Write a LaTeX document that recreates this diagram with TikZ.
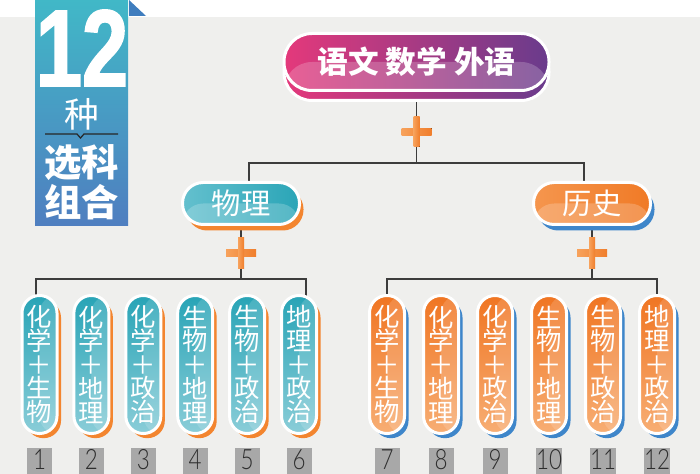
\documentclass[tikz,border=0pt]{standalone}
\usepackage{fontspec}
\usepackage{graphicx}
\setmainfont{Liberation Sans}
\newfontfamily\cjk{Noto Sans CJK SC}
\newfontfamily\numfont{Lato Light}
\newfontfamily\heavyfont[FakeBold=1.5,FakeStretch=0.76]{Liberation Sans Bold}
\usetikzlibrary{shadows,calc}

\definecolor{bggray}{HTML}{EFEFED}
\definecolor{badgetop}{HTML}{41B8C7}
\definecolor{badgebot}{HTML}{4F7EC0}
\definecolor{foldblue}{HTML}{3F7DBE}
\definecolor{pinkl}{HTML}{E4397B}
\definecolor{purpr}{HTML}{693B8C}
\definecolor{tealtop}{HTML}{28A4B6}
\definecolor{tealbot}{HTML}{8ACDD8}
\definecolor{tealdk}{HTML}{2AA5B7}
\definecolor{teallt}{HTML}{64C0CE}
\definecolor{ortop}{HTML}{F07522}
\definecolor{orbot}{HTML}{F7AE74}
\definecolor{ordk}{HTML}{F07A26}
\definecolor{orlt}{HTML}{F5964E}
\definecolor{shorange}{HTML}{F3852F}
\definecolor{shblue}{HTML}{3E86CA}
\definecolor{plusl}{HTML}{F7A25C}
\definecolor{plusr}{HTML}{F07E2C}
\definecolor{linegray}{HTML}{3C3C3C}
\definecolor{numgray}{HTML}{A8A8A8}
\definecolor{numtext}{HTML}{2E2E2E}

\pgfdeclarelayer{back}
\pgfdeclarelayer{lines}
\pgfsetlayers{back,lines,main}

\tikzset{
  conn/.style={draw=linegray,line width=1.1pt},
  lowgloss/.style={path picture={\fill[white,opacity=.2] (path picture bounding box.west) rectangle (path picture bounding box.south east);}},
  rightgloss/.style={path picture={\fill[white,opacity=.15] (path picture bounding box.north) rectangle (path picture bounding box.south east);}},
  flatbox/.style={rectangle,rounded corners=15.5pt,draw=white,line width=2.25pt,minimum width=87.75pt,minimum height=31.5pt,inner sep=0pt,text=white,font=\cjk\fontsize{22}{22}\selectfont,lowgloss},
  tealbox/.style={flatbox,left color=teallt,right color=tealdk,drop shadow={shadow xshift=3pt,shadow yshift=-4.5pt,opacity=1,fill=shorange}},
  orangebox/.style={flatbox,left color=orlt,right color=ordk,drop shadow={shadow xshift=3pt,shadow yshift=-4.5pt,opacity=1,fill=shblue}},
  topbox/.style={rectangle,rounded corners=21pt,draw=white,line width=2.25pt,minimum width=198.75pt,minimum height=42.75pt,inner sep=0pt,text=white,font=\cjk\bfseries\fontsize{23}{23}\selectfont,left color=pinkl,right color=purpr,lowgloss,
    drop shadow={shadow xshift=0pt,shadow yshift=-7.5pt,opacity=1,left color=pinkl,right color=purpr,draw=white,line width=2.25pt}},
  pillbox/.style={rectangle,rounded corners=13pt,draw=white,line width=2.25pt,minimum width=26.25pt,minimum height=103.5pt,inner sep=0pt,text=white,align=center,font=\cjk\fontsize{19}{17.8}\selectfont,rightgloss},
  tealpill/.style={pillbox,top color=tealtop,bottom color=tealbot,drop shadow={shadow xshift=3pt,shadow yshift=-3.5pt,opacity=1,fill=shorange}},
  orangepill/.style={pillbox,top color=ortop,bottom color=orbot,drop shadow={shadow xshift=3pt,shadow yshift=-3.5pt,opacity=1,fill=shblue}},
  numbox/.style={fill=numgray,minimum width=18.75pt,minimum height=21pt,inner sep=0pt,text height=16pt,text depth=4.5pt,text=numtext,font=\numfont\fontsize{21}{21}\selectfont},
  badgetext/.style={text=white,inner sep=0pt},
  plusmark/.pic={
    \fill[left color=plusl,right color=plusr] (-15,-3.5) rectangle (15,3.5);
    \fill[left color=plusl,right color=plusr] (-3,-15) rectangle (3,15);
  }
}

\begin{document}
\begin{tikzpicture}[x=0.75pt,y=-0.75pt]
  \useasboundingbox (0,0) rectangle (700,474);
  \begin{pgfonlayer}{back}
    \fill[white] (0,0) rectangle (700,17);
    \fill[bggray] (0,17) rectangle (700,474);
  \end{pgfonlayer}

  % badge
  \shade[top color=badgetop,bottom color=badgebot] (35,0) rectangle (128,226);
  \fill[foldblue] (129,0) -- (146,16) -- (129,16) -- cycle;
  \node[badgetext,font=\heavyfont\fontsize{82}{82}\selectfont] (twelve) at (82,48) {12};
  \node[badgetext,font=\cjk\fontsize{26}{26}\selectfont] (kind) at (82,114) {种};
  \draw[line width=.9pt,black!85] (45,134) -- (77,134) -- (80.5,138) -- (84,134) -- (118,134);
  \node[badgetext,align=center,font=\cjk\bfseries\fontsize{28}{30}\selectfont] (combo) at (82,182) {选科\\组合};

  % tree
  \node[topbox] (top) at (416.5,62) {语文 数学 外语};
  \node[tealbox] (wl) at (241,203.5) {物理};
  \node[orangebox] (ls) at (592,203.5) {历史};

  \foreach \a/\b/\c/\d [count=\k] in {化/学/生/物,化/学/地/理,化/学/政/治,生/物/地/理,生/物/政/治,地/理/政/治}{
    \pgfmathsetmacro\xl{39.5+51.9*(\k-1)}
    \pgfmathsetmacro\xr{387+54*(\k-1)}
    \pgfmathtruncatemacro\kr{\k+6}
    \node[tealpill] (p\k) at (\xl,364.5) {\a\\\b\\＋\\\c\\\d};
    \node[orangepill] (p\kr) at (\xr,364.5) {\a\\\b\\＋\\\c\\\d};
    \node[numbox] (n\k) at (\xl,462) {\scalebox{.8}[1]{\k}};
    \node[numbox] (n\kr) at (\xr,462) {\scalebox{.8}[1]{\kr}};
  }

  \coordinate (j0) at (416.5,163);
  \coordinate (jl) at (241,279);
  \coordinate (jr) at (592,279);
  \begin{pgfonlayer}{lines}
    \draw[conn] (top) -- (j0);
    \draw[conn] ($(wl)+(8,0)$) |- (j0) -| ($(ls)+(-8,0)$);
    \draw[conn] (wl) -- (jl);
    \draw[conn] (ls) -- (jr);
    \draw[conn] ($(p1)+(-3.5,0)$) |- (jl) -| ($(p6)+(7,0)$);
    \draw[conn] (p7) |- (jr) -| (p12);
  \end{pgfonlayer}
  \pic at (416.5,132) {plusmark};
  \pic at (241,253) {plusmark};
  \pic at (592,253) {plusmark};
\end{tikzpicture}
\end{document}
